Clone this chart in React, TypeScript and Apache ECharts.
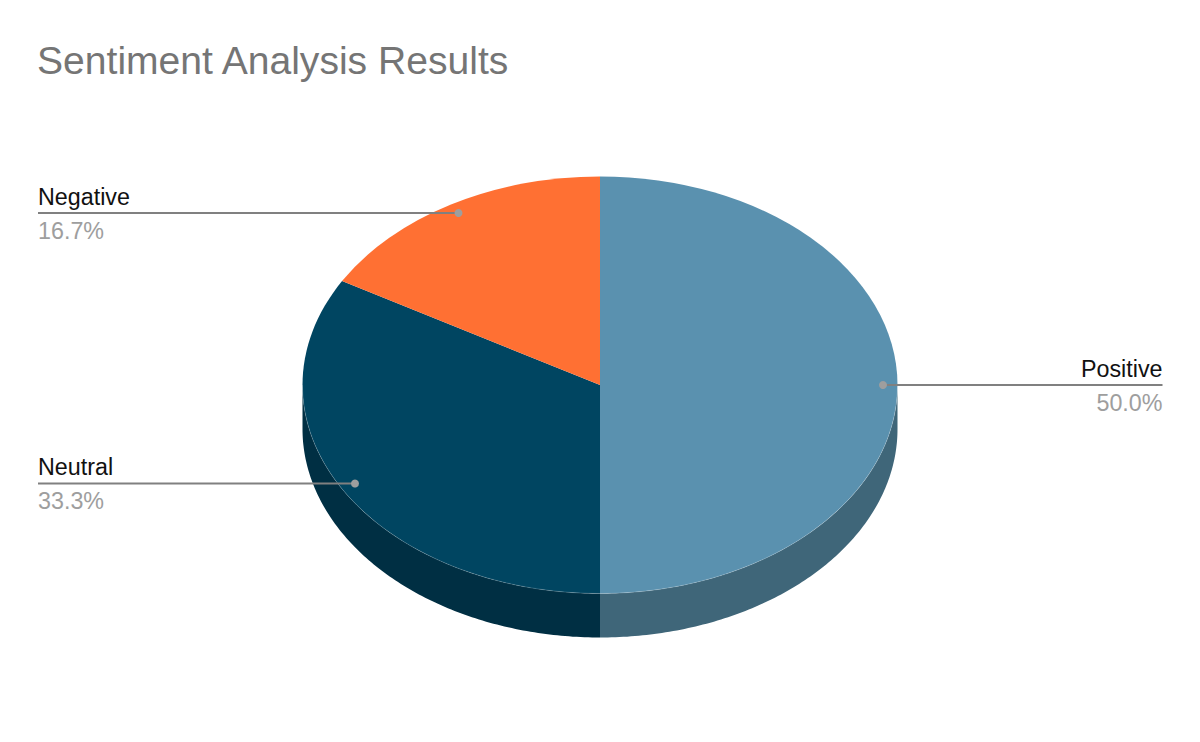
import React, { useEffect, useRef } from "react";
import * as echarts from "echarts";

const categories = ["Positive", "Neutral", "Negative"];
const values = [50.0, 33.3, 16.7];
const percentLabels = ["50.0%", "33.3%", "16.7%"];
const topColors = ["#5A91AF", "#004561", "#FF7033"];
const wallColors = ["#3F6679", "#002F43", "#B24E24"];

const CX = 600, CY = 385, RX = 297.5, RY = 208.5, DEPTH = 44;
const LEFT = 38, RIGHT = 1162.5;
const total = values.reduce((a, b) => a + b, 0);
// clockwise from 12 o'clock
function bounds(i: number) {
  let s = 0;
  for (let k = 0; k < i; k++) s += values[k];
  return [s / total * 2 * Math.PI, (s + values[i]) / total * 2 * Math.PI];
}
const px = (a: number) => CX + RX * Math.sin(a);
const py = (a: number) => CY - RY * Math.cos(a);

const lineY = [385, 483.5, 213];
const dotX = [883, 355, 458.5];

export default function App() {
  const ref = useRef<HTMLDivElement>(null);
  useEffect(() => {
    document.body.style.margin = "0";
    const chart = echarts.init(ref.current!, undefined, { renderer: "svg" });
    const renderItem = (_p: any, api: any) => {
      const i = api.value(0);
      const [a0, a1] = bounds(i);
      const children: any[] = [];
      const w0 = Math.max(a0, Math.PI / 2);
      const w1 = Math.min(a1, (3 * Math.PI) / 2);
      const seam: number[][] = [];
      if (w1 > w0) {
        const pts: number[][] = [];
        const n = 120;
        for (let k = 0; k <= n; k++) {
          const a = w0 + (w1 - w0) * k / n;
          pts.push([px(a), py(a)]);
          seam.push([px(a), py(a)]);
        }
        for (let k = n; k >= 0; k--) {
          const a = w0 + (w1 - w0) * k / n;
          pts.push([px(a), py(a) + DEPTH]);
        }
        children.push({ type: "polygon", shape: { points: pts }, style: { fill: wallColors[i] }, z2: 1 });
      }
      children.push({
        type: "sector",
        x: CX, y: CY, scaleY: RY / RX,
        shape: { cx: 0, cy: 0, r: RX, r0: 0, startAngle: a0 - Math.PI / 2, endAngle: a1 - Math.PI / 2, clockwise: true },
        style: { fill: topColors[i] }, z2: 2,
      });
      if (seam.length) {
        children.push({ type: "polyline", shape: { points: seam }, style: { stroke: "rgba(255,255,255,0.22)", lineWidth: 0.8, fill: "none" }, z2: 3 });
      }
      return { type: "group", children };
    };
    const labelItem = (_p: any, api: any) => {
      const i = api.value(0);
      const onRight = dotX[i] > CX;
      const tx = onRight ? RIGHT : LEFT;
      const align = onRight ? "right" : "left";
      return {
        type: "group",
        children: [
          { type: "line", shape: { x1: tx, y1: lineY[i], x2: dotX[i], y2: lineY[i] }, style: { stroke: "#808080", lineWidth: 2.2 }, z2: 3 },
          { type: "circle", shape: { cx: dotX[i], cy: lineY[i], r: 4 }, style: { fill: "#9E9E9E" }, z2: 4 },
          { type: "text", x: tx, y: lineY[i] - 5, style: { text: categories[i], fontFamily: "Liberation Sans", fontSize: 23.3, fill: "#111111", align, verticalAlign: "bottom" }, z2: 5 },
          { type: "text", x: tx, y: lineY[i] + 6, style: { text: percentLabels[i], fontFamily: "Liberation Sans", fontSize: 23.3, fill: "#9E9E9E", align, verticalAlign: "top" }, z2: 5 },
        ],
      };
    };
    const data = categories.map((_, i) => [i]);
    chart.setOption({
      animation: false,
      backgroundColor: "#ffffff",
      title: {
        text: "Sentiment Analysis Results", left: 37, top: 41, padding: 0,
        textStyle: { fontFamily: "Liberation Sans", fontSize: 39.1, fontWeight: "normal", color: "#757575" },
      },
      series: [
        { type: "custom", coordinateSystem: "none", renderItem, data, silent: true, z: 2 },
        { type: "custom", coordinateSystem: "none", renderItem: labelItem, data, silent: true, z: 3 },
      ],
    });
    return () => chart.dispose();
  }, []);
  return <div ref={ref} style={{ width: 1200, height: 742 }} />;
}
